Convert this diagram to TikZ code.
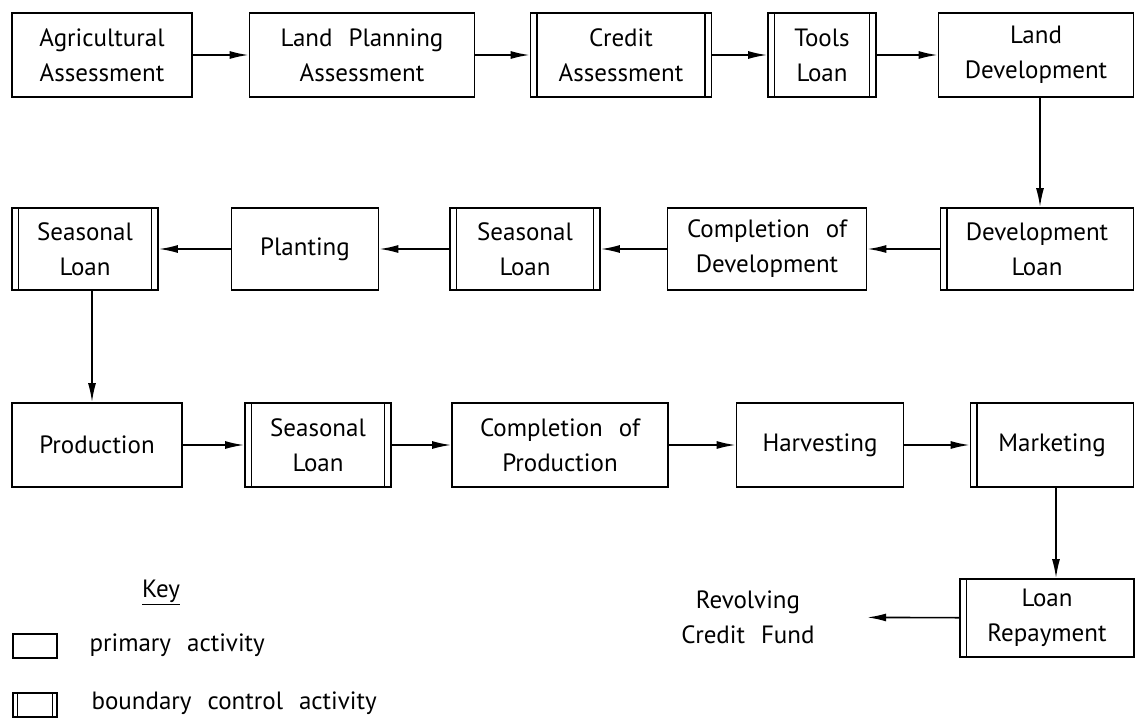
\documentclass[tikz,border=0pt]{standalone}
\usepackage{fontspec}
\setmainfont{PT Sans}[WordSpace=2.4]
\usetikzlibrary{positioning,arrows.meta}

\tikzset{
  actbox/.style={draw, line width=1.8pt, align=center, inner sep=0pt, minimum height=84pt},
  ctrlbox/.style={actbox, path picture={
      \draw[line width=1.8pt] ([xshift=#1]path picture bounding box.north west) -- ([xshift=#1]path picture bounding box.south west);
      \draw[line width=1.8pt] ([xshift=-#1]path picture bounding box.north east) -- ([xshift=-#1]path picture bounding box.south east);}},
  ctrlbox/.default=6.5pt,
  ctrlleft/.style={actbox, path picture={
      \draw[line width=1.8pt] ([xshift=6.5pt]path picture bounding box.north west) -- ([xshift=6.5pt]path picture bounding box.south west);}},
  flow/.style={line width=1.6pt, -{Latex[length=19pt,width=8pt]}},
}

\begin{document}
\begin{tikzpicture}[x=1pt, y=-1pt, font=\fontsize{25}{35}\selectfont]
    \useasboundingbox (0,0) rectangle (1136,718);

    % First row
    \node[actbox, minimum width=180pt] (agri) at (102,55) {Agricultural\\Assessment};
    \node[actbox, minimum width=225pt] (landplan) at (362,55) {Land Planning\\Assessment};
    \node[ctrlbox, minimum width=181pt] (credit) at (621,55) {Credit\\Assessment};
    \node[ctrlbox, minimum width=108pt] (tools) at (822,55) {Tools\\Loan};
    \node[actbox, minimum width=195pt] (landdev) at (1036,55) {Land\\Development};

    % Second row (runs right to left)
    \node[ctrlleft, minimum width=193pt, minimum height=82pt] (devloan) at (1037,249) {Development\\Loan};
    \node[actbox, minimum width=199pt, minimum height=82pt] (compdev) at (767,249) {Completion of\\Development};
    \node[ctrlbox, minimum width=150pt, minimum height=82pt] (seasB) at (525,249) {Seasonal\\Loan};
    \node[actbox, minimum width=147pt, minimum height=82pt] (planting) at (305,249) {Planting};
    \node[ctrlbox, minimum width=146pt, minimum height=82pt] (seasA) at (85,249) {Seasonal\\Loan};

    % Third row
    \node[actbox, minimum width=170pt] (production) at (97,445) {Production};
    \node[ctrlbox, minimum width=146pt] (seasC) at (318,445) {Seasonal\\Loan};
    \node[actbox, minimum width=216pt] (compprod) at (560,445) {Completion of\\Production};
    \node[actbox, minimum width=167pt] (harvest) at (820,445) {Harvesting};
    \node[ctrlleft, minimum width=163pt] (marketing) at (1052,445) {Marketing};

    % Repayment and fund
    \node[ctrlleft, minimum width=174pt, minimum height=78pt] (repay) at (1047,618) {Loan\\Repayment};
    \node[align=center, minimum width=238pt, inner sep=0pt] (fund) at (748,617) {Revolving\\Credit Fund};

    % Flow
    \draw[flow] (agri) -- (landplan);
    \draw[flow] (landplan) -- (credit);
    \draw[flow] (credit) -- (tools);
    \draw[flow] (tools) -- (landdev);
    \draw[flow] ([xshift=4pt]landdev.south) -- ([xshift=4pt]landdev.south |- devloan.north);
    \draw[flow] (devloan) -- (compdev);
    \draw[flow] (compdev) -- (seasB);
    \draw[flow] (seasB) -- (planting);
    \draw[flow] (planting) -- (seasA);
    \draw[flow] ([xshift=7pt]seasA.south) -- ([xshift=7pt]seasA.south |- production.north);
    \draw[flow] (production) -- (seasC);
    \draw[flow] (seasC) -- (compprod);
    \draw[flow] (compprod) -- (harvest);
    \draw[flow] (harvest) -- (marketing);
    \draw[flow] ([xshift=4pt]marketing.south) -- ([xshift=4pt]marketing.south |- repay.north);
    \draw[flow] (repay) -- (fund);

    % Key
    \node (key) at (161,592) {\underline{Key}};
    \node[actbox, line width=1.5pt, minimum width=44pt, minimum height=24pt] (keyprim) at (35,646) {};
    \node[ctrlbox=4.5pt, line width=1.5pt, minimum width=44pt, minimum height=24pt] (keyctrl) at (35,705) {};
    \node[anchor=west] (primtext) at (86,645) {primary activity};
    \node[anchor=west] (ctrltext) at (88,703) {boundary control activity};
\end{tikzpicture}
\end{document}
